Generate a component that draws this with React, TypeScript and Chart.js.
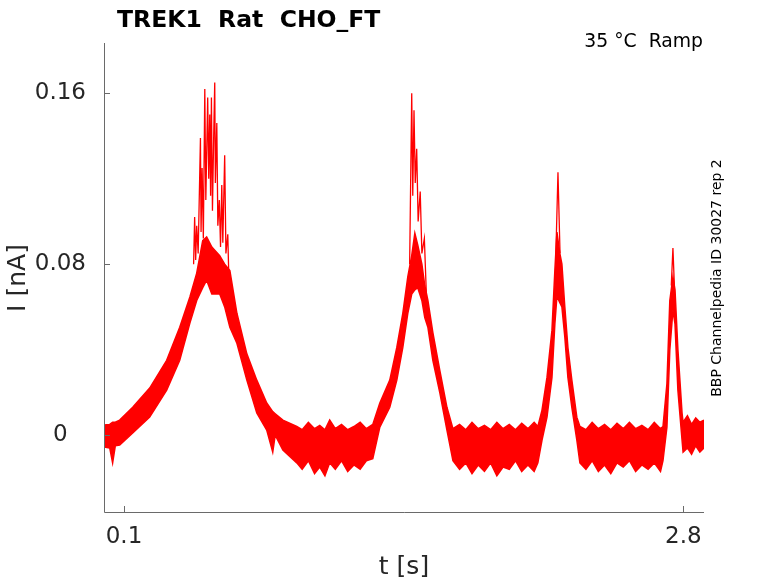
import { useEffect, useRef } from 'react';
import { Chart, registerables } from 'chart.js';

Chart.register(...registerables);

// envelope of the noisy trace (t in s, I in nA), read region by region
const envTime = [
  // start, first peak, descent
  0.004, 0.031, 0.045, 0.058, 0.079, 0.142, 0.224, 0.306, 0.369, 0.418,
  0.451, 0.480, 0.499, 0.524, 0.562, 0.586, 0.611, 0.645, 0.693, 0.741,
  0.789, 0.818, 0.830, 0.867,
  // flat 1
  0.934, 0.960, 0.990, 1.020, 1.045, 1.070, 1.093, 1.120, 1.150, 1.180,
  1.210, 1.240, 1.270, 1.301,
  // peak 2
  1.335, 1.383, 1.417, 1.446, 1.470, 1.489, 1.504, 1.518, 1.538, 1.552,
  1.567, 1.591, 1.625, 1.659,
  // flat 2
  1.688, 1.720, 1.750, 1.780, 1.810, 1.840, 1.870, 1.900, 1.930, 1.960,
  1.990, 2.020, 2.050, 2.080, 2.098,
  // peak 3
  2.118, 2.142, 2.166, 2.180, 2.190, 2.204, 2.214, 2.228, 2.243, 2.262,
  2.286,
  // flat 3
  2.301, 2.330, 2.360, 2.390, 2.420, 2.450, 2.480, 2.510, 2.540, 2.570,
  2.600, 2.630, 2.660, 2.690, 2.702,
  // peak 4
  2.721, 2.735, 2.750, 2.760, 2.774, 2.794,
  // flat 4
  2.799, 2.820, 2.840, 2.860, 2.880, 2.900,
];
const envUpper = [
  0.0047, 0.005, 0.006, 0.006, 0.007, 0.013, 0.022, 0.035, 0.0505, 0.0646,
  0.0758, 0.091, 0.0927, 0.088, 0.084, 0.080, 0.077, 0.057, 0.038, 0.0257,
  0.015, 0.011, 0.010, 0.007,
  0.004, 0.0025, 0.006, 0.003, 0.0045, 0.0025, 0.007, 0.003, 0.005, 0.0025,
  0.004, 0.006, 0.003, 0.005,
  0.015, 0.0257, 0.041, 0.057, 0.074, 0.084, 0.0945, 0.089, 0.080, 0.070,
  0.063, 0.048, 0.030, 0.013,
  0.003, 0.005, 0.0025, 0.006, 0.003, 0.0045, 0.0025, 0.006, 0.003, 0.005,
  0.0025, 0.0055, 0.003, 0.006, 0.004,
  0.0117, 0.027, 0.049, 0.077, 0.095, 0.085, 0.080, 0.060, 0.041, 0.0257,
  0.0084,
  0.004, 0.0025, 0.006, 0.003, 0.005, 0.0025, 0.0055, 0.003, 0.006, 0.003,
  0.0045, 0.0025, 0.006, 0.003, 0.004,
  0.024, 0.063, 0.074, 0.068, 0.040, 0.0103,
  0.006, 0.009, 0.005, 0.008, 0.006, 0.007,
];
const envLower = [
  -0.0056, -0.006, -0.013, -0.005, -0.0047, 0.001, 0.0084, 0.021, 0.035, 0.0524,
  0.063, 0.069, 0.0725, 0.066, 0.066, 0.060, 0.0505, 0.043, 0.0257, 0.0103,
  0.0023, -0.008, 0.0, -0.007,
  -0.013, -0.016, -0.012, -0.018, -0.015, -0.019, -0.013, -0.016, -0.012, -0.017,
  -0.014, -0.016, -0.012, -0.011,
  0.0037, 0.013, 0.0257, 0.041, 0.057, 0.066, 0.068, 0.069, 0.063, 0.055,
  0.0505, 0.035, 0.0197, 0.0023,
  -0.012, -0.016, -0.013, -0.018, -0.014, -0.017, -0.013, -0.019, -0.015, -0.016,
  -0.012, -0.017, -0.014, -0.017, -0.013,
  -0.0023, 0.0084, 0.027, 0.052, 0.065, 0.062, 0.060, 0.046, 0.027, 0.013,
  -0.0023,
  -0.013, -0.016, -0.012, -0.017, -0.014, -0.018, -0.013, -0.015, -0.012, -0.017,
  -0.014, -0.016, -0.013, -0.017, -0.012,
  0.0037, 0.040, 0.0585, 0.052, 0.021, -0.0023,
  -0.008, -0.006, -0.009, -0.005, -0.008, -0.006,
];

// thin spikes on top of the peaks (null = gap)
const spikeTime = [
  0.436, 0.441, 0.446, 0.451, 0.458, 0.469, 0.472, 0.477, 0.483, 0.490,
  0.495, 0.504, 0.509, 0.514, 0.518, 0.522, 0.527, 0.533, 0.538, 0.541,
  0.548, 0.553, 0.560, 0.566, 0.572, 0.577, 0.586, 0.592, 0.601, 0.607,
  0.610,
  1.479, 1.489, 1.494, 1.500, 1.506, 1.513, 1.520, 1.530, 1.538, 1.550,
  1.560, 1.562,
  2.185, 2.195, 2.205, 2.207,
  2.742, 2.750, 2.757,
];
const spikeValue = [
  0.080, 0.102, 0.082, 0.098, 0.085, 0.139, 0.095, 0.125, 0.092, 0.162,
  0.110, 0.158, 0.120, 0.150, 0.112, 0.158, 0.105, 0.140, 0.165, 0.118,
  0.146, 0.098, 0.110, 0.088, 0.117, 0.090, 0.131, 0.085, 0.094, 0.070,
  null,
  0.080, 0.160, 0.112, 0.152, 0.118, 0.134, 0.100, 0.114, 0.085, 0.092,
  0.065, null,
  0.085, 0.123, 0.085, null,
  0.070, 0.0875, 0.070,
];

const xTicks = [0.1, 2.8];
const xTickLabels = ['0.1', '2.8'];
const yTicks = [0, 0.08, 0.16];
const yTickLabels = ['0', '0.08', '0.16'];

const titleText = 'TREK1  Rat  CHO_FT';
const conditionText = '35 °C  Ramp';
const sideText = 'BBP Channelpedia ID 30027 rep 2';

const RED = '#ff0000';
const AXIS = '#6a6a6a';
const TEXT = '#262626';
const FONT = "'DejaVu Sans', sans-serif";

const decor = {
  id: 'decor',
  afterDraw(chart: any) {
    const { ctx, chartArea, scales } = chart;
    const { x, y } = scales;
    ctx.save();
    ctx.strokeStyle = AXIS;
    ctx.lineWidth = 1;
    ctx.beginPath();
    ctx.moveTo(chartArea.left + 0.5, chartArea.top);
    ctx.lineTo(chartArea.left + 0.5, chartArea.bottom + 0.5);
    ctx.lineTo(chartArea.right, chartArea.bottom + 0.5);
    xTicks.forEach((v) => {
      const px = Math.round(x.getPixelForValue(v)) + 0.5;
      ctx.moveTo(px, chartArea.bottom);
      ctx.lineTo(px, chartArea.bottom - 6);
    });
    yTicks.forEach((v) => {
      const py = Math.round(y.getPixelForValue(v)) + 0.5;
      ctx.moveTo(chartArea.left, py);
      ctx.lineTo(chartArea.left + 6, py);
    });
    ctx.stroke();

    // title and condition
    ctx.fillStyle = '#000';
    ctx.textBaseline = 'alphabetic';
    ctx.textAlign = 'left';
    ctx.font = `bold 23.5px ${FONT}`;
    ctx.fillText(titleText, 117, 27);

    ctx.font = `18.8px ${FONT}`;
    ctx.textAlign = 'right';
    ctx.fillText(conditionText, 703, 47);

    // axis titles
    ctx.fillStyle = TEXT;
    ctx.font = `25px ${FONT}`;
    ctx.textAlign = 'center';
    ctx.textBaseline = 'middle';
    ctx.fillText('t [s]', (chartArea.left + chartArea.right) / 2, 567);

    ctx.save();
    ctx.translate(18, 278);
    ctx.rotate(-Math.PI / 2);
    ctx.fillText('I [nA]', 0, 0);
    ctx.restore();

    // side note
    ctx.fillStyle = '#000';
    ctx.save();
    ctx.translate(717, 278);
    ctx.rotate(-Math.PI / 2);
    ctx.font = `14px ${FONT}`;
    ctx.fillText(sideText, 0, 0);
    ctx.restore();

    ctx.restore();
  },
};

export default function App() {
  const canvasRef = useRef<HTMLCanvasElement>(null);

  useEffect(() => {
    if (!canvasRef.current) return;
    const upper = envTime.map((t, i) => ({ x: t, y: envUpper[i] }));
    const lower = envTime.map((t, i) => ({ x: t, y: envLower[i] }));
    const spikes = spikeTime.map((t, i) => ({ x: t, y: spikeValue[i] }));

    const chart = new Chart(canvasRef.current, {
      type: 'line',
      data: {
        datasets: [
          {
            data: upper,
            borderColor: RED,
            backgroundColor: RED,
            borderWidth: 1.5,
            pointRadius: 0,
            tension: 0,
            fill: '+1',
          },
          {
            data: lower,
            borderColor: RED,
            borderWidth: 1.5,
            pointRadius: 0,
            tension: 0,
            fill: false,
          },
          {
            data: spikes,
            borderColor: RED,
            borderWidth: 1.3,
            pointRadius: 0,
            tension: 0,
            fill: false,
            spanGaps: false,
          },
        ],
      },
      options: {
        responsive: false,
        animation: false,
        events: [],
        layout: { padding: { left: 0, right: 74, top: 43, bottom: 0 } },
        plugins: {
          legend: { display: false },
          tooltip: { enabled: false },
          title: { display: false },
        },
        scales: {
          x: {
            type: 'linear',
            min: 0.0034,
            max: 2.9,
            afterBuildTicks: (s: any) => {
              s.ticks = xTicks.map((v) => ({ value: v }));
            },
            afterFit: (s: any) => {
              s.height = 71;
            },
            grid: { display: false, drawTicks: false },
            border: { display: false },
            ticks: {
              padding: 11,
              color: TEXT,
              font: { family: FONT, size: 23 },
              maxRotation: 0,
              callback: (_v: any, i: number) => xTickLabels[i],
            },
          },
          y: {
            type: 'linear',
            min: -0.036,
            max: 0.1835,
            afterBuildTicks: (s: any) => {
              s.ticks = yTicks.map((v) => ({ value: v }));
            },
            afterFit: (s: any) => {
              s.width = 104;
            },
            grid: { display: false, drawTicks: false },
            border: { display: false },
            ticks: {
              padding: 18,
              crossAlign: 'center',
              color: TEXT,
              font: { family: FONT, size: 23 },
              callback: (_v: any, i: number) => yTickLabels[i],
            },
          },
        },
      },
      plugins: [decor],
    });

    return () => chart.destroy();
  }, []);

  return (
    <div style={{ position: 'absolute', left: 0, top: 0, width: 778, height: 583, background: '#fff' }}>
      <canvas ref={canvasRef} width={778} height={583} />
    </div>
  );
}
